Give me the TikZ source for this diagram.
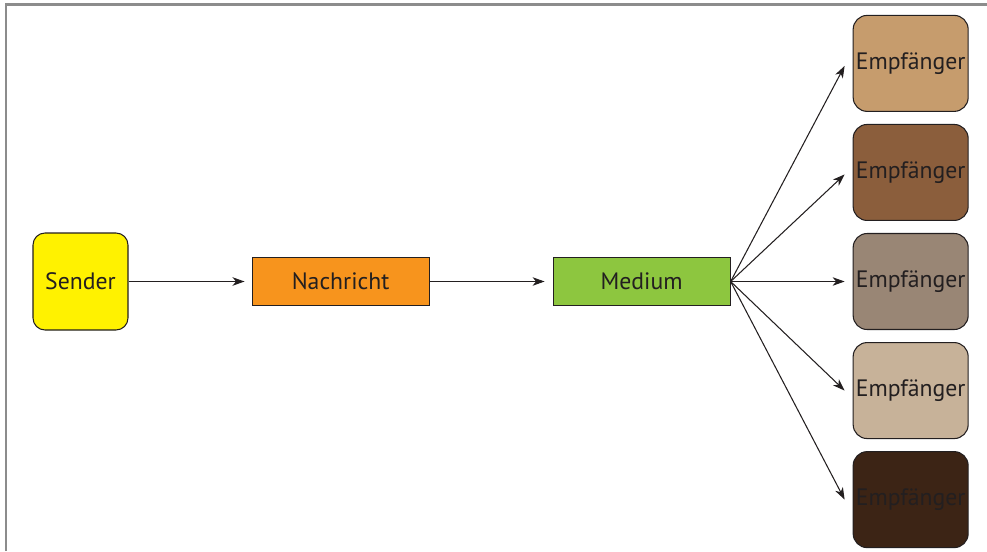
\documentclass[tikz,border=0pt]{standalone}
\usepackage{fontspec}
\setmainfont{PT Sans}
\usepackage{tikz}
\usetikzlibrary{
  arrows.meta,
  positioning
}
\definecolor{inkdark}{RGB}{35,31,32}
\definecolor{framegray}{RGB}{140,140,140}
\definecolor{senderyellow}{RGB}{255,242,0}
\definecolor{msgorange}{RGB}{247,148,29}
\definecolor{mediumgreen}{RGB}{141,198,63}
\definecolor{recvtan}{RGB}{198,156,109}
\definecolor{recvbrown}{RGB}{139,94,60}
\definecolor{recvtaupe}{RGB}{153,134,117}
\definecolor{recvsand}{RGB}{199,178,153}
\definecolor{recvdark}{RGB}{60,36,21}
\tikzset{
  box/.style={draw=inkdark,line width=0.6pt,align=center,inner xsep=0pt,
    text=inkdark,font=\fontsize{13.5}{16}\selectfont},
  senderbox/.style={box,fill=senderyellow,rounded corners=2.4mm,
    minimum width=1.9cm,minimum height=1.94cm},
  msgbox/.style={box,fill=msgorange,minimum width=3.54cm,minimum height=0.96cm},
  mediumbox/.style={box,fill=mediumgreen,minimum width=3.54cm,minimum height=0.96cm},
  recvbox/.style={box,rounded corners=2.8mm,
    minimum width=2.3cm,minimum height=1.92cm},
  flow/.style={-{Stealth[length=2.4mm,width=1.7mm,inset=0.7mm]},
    line width=0.6pt,draw=inkdark}
}
\begin{document}
\begin{tikzpicture}[node distance=0.24cm and 2.46cm]
  \useasboundingbox (0,0) rectangle (19.74,-11.02);
  % frame edges
  \draw[framegray,line width=1.6pt] (0.12,-11.02) |- (19.74,-0.09);

  \node[senderbox] (sender) at (1.61,-5.63) {Sender};
  \node[msgbox,right=2.46cm of sender] (msg) {Nachricht};
  \node[mediumbox,right=of msg] (medium) {Medium};

  \node[recvbox,fill=recvtaupe,right=2.44cm of medium] (recv3) {Empfänger};
  \node[recvbox,fill=recvbrown,above=of recv3] (recv2) {Empfänger};
  \node[recvbox,fill=recvtan,above=of recv2] (recv1) {Empfänger};
  \node[recvbox,fill=recvsand,below=of recv3] (recv4) {Empfänger};
  \node[recvbox,fill=recvdark,below=of recv4] (recv5) {Empfänger};

  \draw[flow] (sender) -- ([xshift=-1.4mm]msg.west);
  \draw[flow] (msg) -- ([xshift=-1.6mm]medium.west);

  \draw[flow] (medium.east) -- ([xshift=-1.6mm,yshift=-0.05cm]recv1.west);
  \draw[flow] (medium.east) -- ([xshift=-1.6mm,yshift=-0.04cm]recv2.west);
  \draw[flow] (medium.east) -- ([xshift=-1.6mm]recv3.west);
  \draw[flow] (medium.east) -- ([xshift=-1.6mm]recv4.west);
  \draw[flow] (medium.east) -- ([xshift=-1.6mm]recv5.west);
\end{tikzpicture}
\end{document}
